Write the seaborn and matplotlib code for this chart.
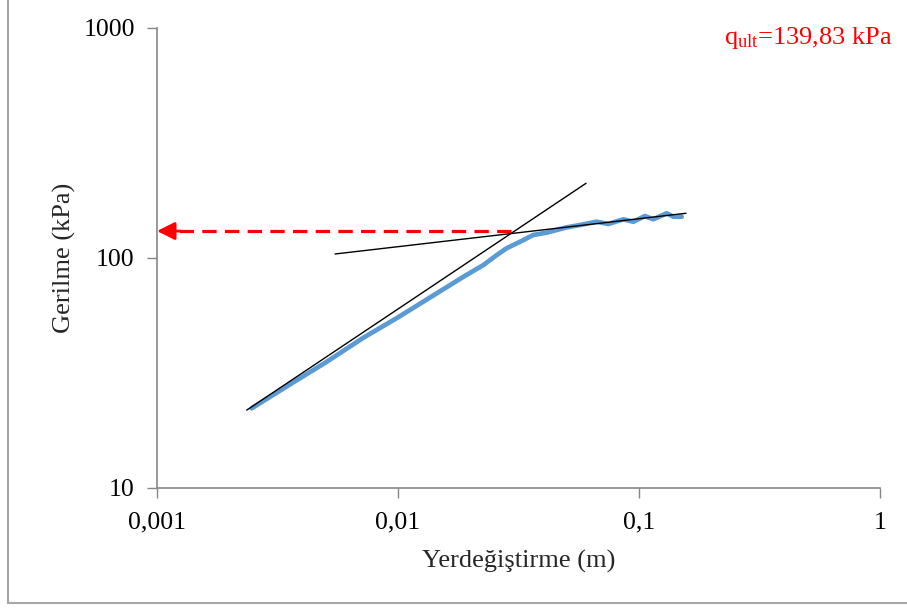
import numpy as np
import pandas as pd
import matplotlib
matplotlib.use("Agg")
import matplotlib.pyplot as plt
import seaborn as sns
from matplotlib.lines import Line2D

# Data
displacement = [0.00247, 0.0035, 0.0050, 0.00718, 0.0100, 0.0140, 0.0187, 0.0226, 0.0257,
                0.0282, 0.0321, 0.0364, 0.0414, 0.0501, 0.0569, 0.0667, 0.0746, 0.0861,
                0.0947, 0.1058, 0.1146, 0.1303, 0.1388, 0.1503]
stress = [22.2, 27.9, 35.1, 45.0, 55.2, 68.7, 82.9, 93.2, 103.0,
          110.2, 117.7, 125.9, 128.9, 135.9, 139.1, 143.8, 140.6, 147.3,
          143.8, 152.2, 147.3, 156.4, 151.2, 151.2]

tangent1_x = [0.002356, 0.0603]
tangent1_y = [21.8, 211.3]
tangent2_x = [0.00548, 0.1567]
tangent2_y = [104.1, 156.5]

q_ult_level = 131.0
q_ult_x_start = 0.0295
x_ticks = [0.001, 0.01, 0.1, 1]
x_tick_labels = ["0,001", "0,01", "0,1", "1"]
y_ticks = [10, 100, 1000]
y_tick_labels = ["10", "100", "1000"]

sns.set_theme(style="white")
plt.rcParams['font.family'] = ['Liberation Serif', 'DejaVu Serif']
plt.rcParams['mathtext.fontset'] = 'custom'
plt.rcParams['mathtext.rm'] = 'Liberation Serif'

fig = plt.figure(figsize=(9.07, 6.08), dpi=100)
ax = fig.add_axes([157/907, 1-488/608, (880-157)/907, (488-28)/608])

df = pd.DataFrame({"x": displacement, "y": stress})
sns.lineplot(data=df, x="x", y="y", ax=ax, color="#5B9BD5", linewidth=3.4, sort=False)
sns.lineplot(x=tangent1_x, y=tangent1_y, ax=ax, color="black", linewidth=1.0)
sns.lineplot(x=tangent2_x, y=tangent2_y, ax=ax, color="black", linewidth=1.0)
for ln in ax.lines[:1]:
    ln.set_solid_joinstyle("round")
    ln.set_solid_capstyle("round")

ax.set_xscale("log")
ax.set_yscale("log")
ax.set_xlim(0.001, 1)
ax.set_ylim(10, 1000)

# dashed arrow
ax.plot([q_ult_x_start, 0.00118], [q_ult_level, q_ult_level], color="red",
        linestyle=(0, (4.5, 2.6)), linewidth=2.3)
ax.annotate("", xy=(0.001, q_ult_level), xytext=(0.00125, q_ult_level),
            arrowprops=dict(arrowstyle="-|>,head_length=0.9,head_width=0.45",
                            color="red", lw=2.0, shrinkA=0, shrinkB=0))

ax.set_xticks(x_ticks)
ax.set_xticklabels(x_tick_labels)
ax.set_yticks(y_ticks)
ax.set_yticklabels(y_tick_labels)
ax.minorticks_off()
ax.tick_params(axis="both", which="major", length=7, width=1, color="#868686",
               direction="out", labelsize=18.5, colors="black")
ax.tick_params(axis="x", pad=10)
ax.tick_params(axis="y", pad=9)
for t in ax.xaxis.get_major_ticks() + ax.yaxis.get_major_ticks():
    t.tick1line.set_color("#868686")
ax.xaxis.set_ticks_position("bottom")
ax.yaxis.set_ticks_position("left")

for side in ["top", "right"]:
    ax.spines[side].set_visible(False)
for side in ["left", "bottom"]:
    ax.spines[side].set_color("#868686")
    ax.spines[side].set_linewidth(1.2)

ax.set_xlabel("Yerdeğiştirme (m)", fontsize=19, labelpad=12)
ax.set_ylabel("Gerilme (kPa)", fontsize=19, labelpad=5)
ax.grid(False)

fig.text(893/907, 1-38/608, r"$\mathregular{q_{ult}}$=139,83 kPa", color="red",
         fontsize=19, ha="right", va="center")

# outer chart frame
fig.add_artist(Line2D([8/907, 8/907], [5/608, 1.0], color="#A6A6A6", linewidth=1.5,
                      transform=fig.transFigure))
fig.add_artist(Line2D([8/907, 1.0], [5/608, 5/608], color="#A6A6A6", linewidth=1.5,
                      transform=fig.transFigure))

fig.savefig("out.png", dpi=100)
